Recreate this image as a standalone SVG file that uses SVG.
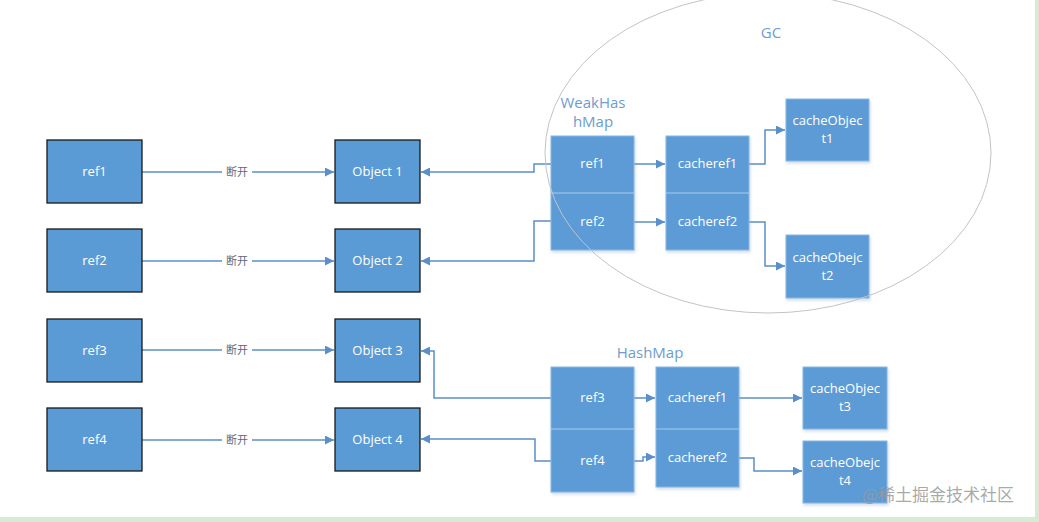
<svg xmlns="http://www.w3.org/2000/svg" width="1039" height="522" viewBox="0 0 1039 522">
<style>
.bg{fill:#ffffff}
.frame{fill:#d5ebd3}
.lbox{fill:#5b9bd5;stroke:#1a1a1a;stroke-width:1.3}
.rbox{fill:#5b9bd5;stroke:#8cb8e4;stroke-width:1}
.div{stroke:#a9cbeb;stroke-width:1}
.t{font-family:"Open Sans","Noto Sans",sans-serif;font-size:13px;fill:#ffffff;text-anchor:middle}
.lbl{font-family:"Noto Sans CJK SC","Noto Sans",sans-serif;font-size:11px;fill:#5a6b80;text-anchor:middle}
.title{font-family:"Open Sans","Noto Sans",sans-serif;font-size:15px;fill:#6f9bd0;text-anchor:middle}
.conn{fill:none;stroke:#5b8fc9;stroke-width:1.5}
.gc{fill:none;stroke:#c4c4c4;stroke-width:1}
.wm{font-family:"Noto Sans CJK SC","Noto Sans",sans-serif;font-size:17px;fill:#9a9a9a;fill-opacity:0.85}
</style>
<defs>
<marker id="ah" viewBox="0 0 10 10" refX="10" refY="5" markerWidth="9" markerHeight="9" markerUnits="userSpaceOnUse" orient="auto">
<path d="M0,0 L10,5 L0,10 z" fill="#5b8fc9"/>
</marker>
<filter id="sh" x="-10%" y="-10%" width="130%" height="130%">
<feDropShadow dx="1" dy="2" stdDeviation="1.5" flood-color="#7a9cc0" flood-opacity="0.35"/>
</filter>
</defs>
<rect class="bg" x="0" y="0" width="1039" height="522"/>
<rect class="frame" x="1035" y="0" width="4" height="522"/>
<rect class="frame" x="0" y="517" width="1039" height="5"/>

<text class="title" x="771" y="38">GC</text>
<text class="title" x="593" y="108">WeakHas</text>
<text class="title" x="593" y="127">hMap</text>
<text class="title" x="650" y="358">HashMap</text>

<g id="connectors">
<g id="disconnect-edges">
<line class="conn" x1="142" y1="172" x2="334" y2="172" marker-end="url(#ah)"/>
<line class="conn" x1="142" y1="261" x2="334" y2="261" marker-end="url(#ah)"/>
<line class="conn" x1="142" y1="350" x2="334" y2="350" marker-end="url(#ah)"/>
<line class="conn" x1="142" y1="440" x2="334" y2="440" marker-end="url(#ah)"/>
<rect x="222" y="164" width="30" height="15" fill="#ffffff"/>
<rect x="222" y="253" width="30" height="15" fill="#ffffff"/>
<rect x="222" y="342" width="30" height="15" fill="#ffffff"/>
<rect x="222" y="432" width="30" height="15" fill="#ffffff"/>
<text class="lbl" x="237" y="176">断开</text>
<text class="lbl" x="237" y="265">断开</text>
<text class="lbl" x="237" y="354">断开</text>
<text class="lbl" x="237" y="444">断开</text>
</g>
<polyline class="conn" points="551,164 534,164 534,172 421,172" marker-end="url(#ah)"/>
<polyline class="conn" points="551,221 534,221 534,261 421,261" marker-end="url(#ah)"/>
<polyline class="conn" points="551,398 434,398 434,351 421,351" marker-end="url(#ah)"/>
<polyline class="conn" points="551,461 535,461 535,439 421,439" marker-end="url(#ah)"/>
<line class="conn" x1="634" y1="164" x2="665" y2="164" marker-end="url(#ah)"/>
<line class="conn" x1="634" y1="222" x2="665" y2="222" marker-end="url(#ah)"/>
<polyline class="conn" points="749,164 765,164 765,130 785,130" marker-end="url(#ah)"/>
<polyline class="conn" points="749,222 765,222 765,266 785,266" marker-end="url(#ah)"/>
<line class="conn" x1="634" y1="398" x2="655" y2="398" marker-end="url(#ah)"/>
<polyline class="conn" points="634,461 643,461 643,457 655,457" marker-end="url(#ah)"/>
<line class="conn" x1="739" y1="398" x2="802" y2="398" marker-end="url(#ah)"/>
<polyline class="conn" points="739,458 754,458 754,471 802,471" marker-end="url(#ah)"/>
</g>

<g id="ref1"><rect class="lbox" x="47" y="140" width="95" height="63"/><text class="t" x="94.5" y="176">ref1</text></g>
<g id="ref2"><rect class="lbox" x="47" y="229" width="95" height="63"/><text class="t" x="94.5" y="265">ref2</text></g>
<g id="ref3"><rect class="lbox" x="47" y="319" width="95" height="63"/><text class="t" x="94.5" y="355">ref3</text></g>
<g id="ref4"><rect class="lbox" x="47" y="408" width="95" height="63"/><text class="t" x="94.5" y="444">ref4</text></g>

<g id="object1"><rect class="lbox" x="335" y="140" width="85" height="63"/><text class="t" x="377.5" y="176">Object 1</text></g>
<g id="object2"><rect class="lbox" x="335" y="229" width="85" height="63"/><text class="t" x="377.5" y="265">Object 2</text></g>
<g id="object3"><rect class="lbox" x="335" y="319" width="85" height="63"/><text class="t" x="377.5" y="355">Object 3</text></g>
<g id="object4"><rect class="lbox" x="335" y="408" width="85" height="63"/><text class="t" x="377.5" y="444">Object 4</text></g>

<g id="weakhashmap">
<rect class="rbox" x="551" y="136" width="83" height="114" filter="url(#sh)"/>
<line class="div" x1="551" y1="193" x2="634" y2="193"/>
<text class="t" x="592.5" y="168">ref1</text>
<text class="t" x="592.5" y="226">ref2</text>
</g>
<g id="weak-cacheref">
<rect class="rbox" x="666" y="136" width="83" height="114" filter="url(#sh)"/>
<line class="div" x1="666" y1="193" x2="749" y2="193"/>
<text class="t" x="707.5" y="168">cacheref1</text>
<text class="t" x="707.5" y="226">cacheref2</text>
</g>
<g id="cacheObject1"><rect class="rbox" x="786" y="99" width="83" height="62" filter="url(#sh)"/><text class="t" x="827.5" y="125">cacheObjec</text><text class="t" x="827.5" y="143">t1</text></g>
<g id="cacheObejct2"><rect class="rbox" x="786" y="235" width="83" height="63" filter="url(#sh)"/><text class="t" x="827.5" y="262">cacheObejc</text><text class="t" x="827.5" y="280">t2</text></g>

<g id="hashmap">
<rect class="rbox" x="551" y="367" width="83" height="125" filter="url(#sh)"/>
<line class="div" x1="551" y1="429" x2="634" y2="429"/>
<text class="t" x="592.5" y="402">ref3</text>
<text class="t" x="592.5" y="465">ref4</text>
</g>
<g id="hash-cacheref">
<rect class="rbox" x="656" y="367" width="83" height="120" filter="url(#sh)"/>
<line class="div" x1="656" y1="429" x2="739" y2="429"/>
<text class="t" x="697.5" y="402">cacheref1</text>
<text class="t" x="697.5" y="462">cacheref2</text>
</g>
<g id="cacheObject3"><rect class="rbox" x="803" y="367" width="84" height="62" filter="url(#sh)"/><text class="t" x="845" y="393">cacheObjec</text><text class="t" x="845" y="411">t3</text></g>
<g id="cacheObejct4"><rect class="rbox" x="803" y="441" width="84" height="62" filter="url(#sh)"/><text class="t" x="845" y="467">cacheObejc</text><text class="t" x="845" y="485">t4</text></g>

<g id="gc"><ellipse class="gc" cx="768" cy="153" rx="223" ry="160"/></g>

<text class="wm" x="862" y="501">@稀土掘金技术社区</text>
</svg>
